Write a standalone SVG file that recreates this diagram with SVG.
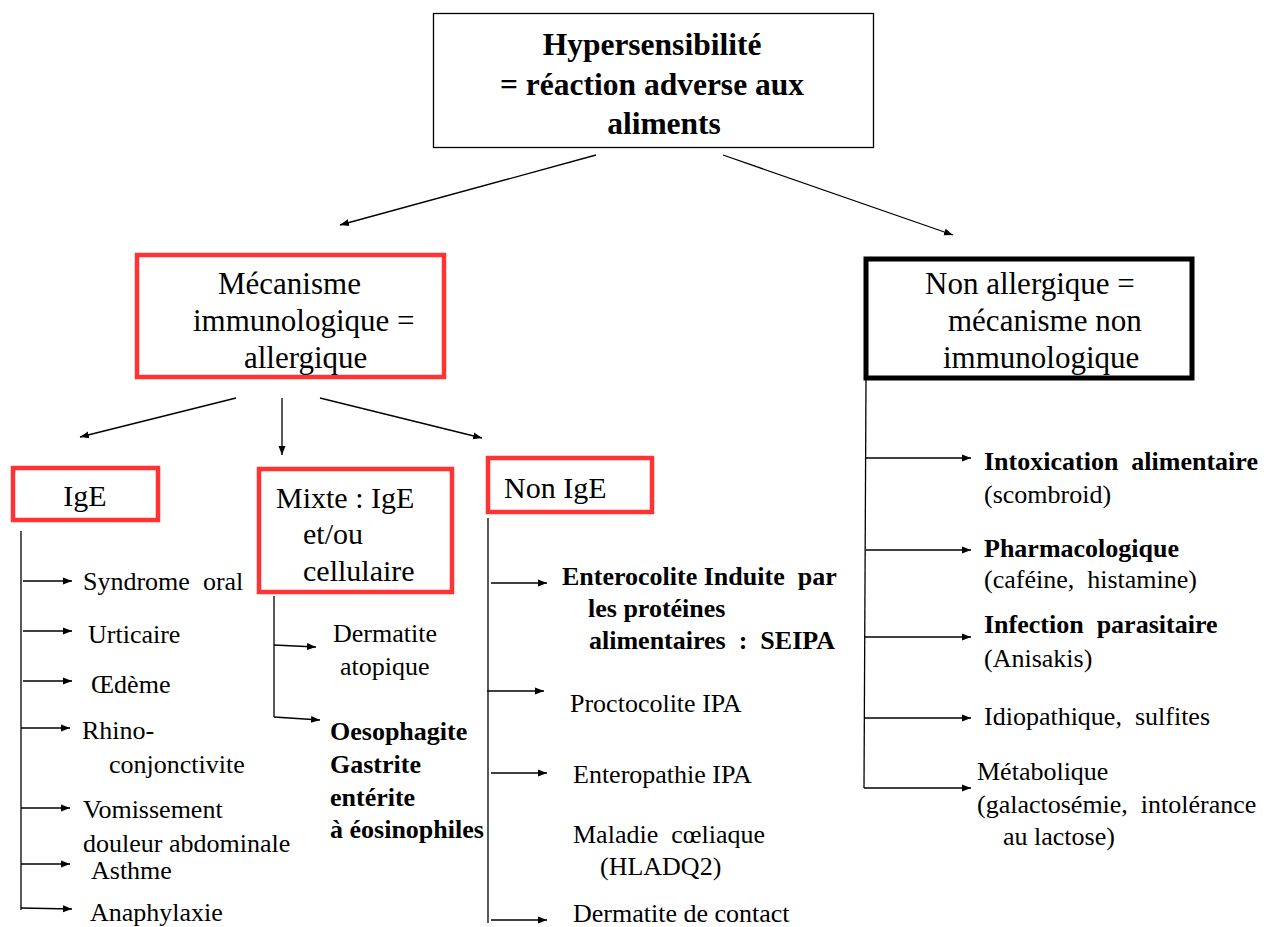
<svg xmlns="http://www.w3.org/2000/svg" width="1274" height="927" viewBox="0 0 1274 927">
<style>
text{font-family:"Liberation Serif","Times New Roman",serif;fill:#000}
.t{font-size:26px}
.b{font-size:26px;font-weight:bold}
.h{font-size:31.5px;font-weight:bold}
.n{font-size:31px}
.s{font-size:30px}
.red{fill:#fff;stroke:#ff3333;stroke-width:4.5}
.ln{fill:none;stroke:#000;stroke-width:1.3}
</style>
<defs>
<marker id="ah" markerUnits="userSpaceOnUse" markerWidth="10" markerHeight="8" refX="9" refY="4" orient="auto">
<path d="M0,0.5 L9,4 L0,7.5 z" fill="#000"/>
</marker>
</defs>
<rect width="1274" height="927" fill="#fff"/>

<g id="connectors" class="ln">
<line x1="596" y1="155" x2="340" y2="225" marker-end="url(#ah)"/>
<line x1="723" y1="155" x2="953" y2="235" marker-end="url(#ah)"/>
<line x1="236" y1="398" x2="80" y2="437" marker-end="url(#ah)"/>
<line x1="282" y1="398" x2="282" y2="455" marker-end="url(#ah)"/>
<line x1="320" y1="398" x2="482" y2="438" marker-end="url(#ah)"/>
<line x1="21" y1="531" x2="21" y2="910"/>
<line x1="23" y1="581" x2="72" y2="581" marker-end="url(#ah)"/>
<line x1="23" y1="631" x2="72" y2="631" marker-end="url(#ah)"/>
<line x1="23" y1="681" x2="72" y2="681" marker-end="url(#ah)"/>
<line x1="21" y1="728" x2="70" y2="728" marker-end="url(#ah)"/>
<line x1="21" y1="808" x2="70" y2="808" marker-end="url(#ah)"/>
<line x1="21" y1="864" x2="70" y2="864" marker-end="url(#ah)"/>
<line x1="21" y1="908" x2="72" y2="909" marker-end="url(#ah)"/>
<line x1="274" y1="596" x2="274" y2="717"/>
<line x1="274" y1="645" x2="316" y2="647" marker-end="url(#ah)"/>
<line x1="274" y1="717" x2="320" y2="720" marker-end="url(#ah)"/>
<line x1="488" y1="518" x2="488" y2="923"/>
<line x1="491" y1="583" x2="547" y2="583" marker-end="url(#ah)"/>
<line x1="487" y1="691" x2="544" y2="691" marker-end="url(#ah)"/>
<line x1="491" y1="773" x2="547" y2="773" marker-end="url(#ah)"/>
<line x1="491" y1="920" x2="547" y2="920" marker-end="url(#ah)"/>
<line x1="866" y1="380" x2="864" y2="788"/>
<line x1="866" y1="458" x2="971" y2="458" marker-end="url(#ah)"/>
<line x1="866" y1="550" x2="971" y2="550" marker-end="url(#ah)"/>
<line x1="865" y1="637" x2="971" y2="637" marker-end="url(#ah)"/>
<line x1="865" y1="718" x2="971" y2="718" marker-end="url(#ah)"/>
<line x1="864" y1="788" x2="971" y2="788" marker-end="url(#ah)"/>
</g>

<g id="node-hyper">
<rect x="433.5" y="13.5" width="440" height="134" fill="#fff" stroke="#000" stroke-width="1.3"/>
<text class="h" x="652" y="55" text-anchor="middle">Hypersensibilité</text>
<text class="h" x="652" y="95" text-anchor="middle">= réaction adverse aux</text>
<text class="h" x="664" y="134" text-anchor="middle">aliments</text>
</g>

<g id="node-meca">
<rect class="red" x="137" y="255" width="307" height="122"/>
<text class="n" x="218" y="294">Mécanisme</text>
<text class="n" x="193" y="331">immunologique =</text>
<text class="n" x="244" y="368">allergique</text>
</g>

<g id="node-nonallerg">
<rect x="866" y="259" width="326" height="119" fill="#fff" stroke="#000" stroke-width="5"/>
<text class="n" x="925" y="294">Non allergique =</text>
<text class="n" x="948" y="331">mécanisme non</text>
<text class="n" x="943" y="368">immunologique</text>
</g>

<g id="node-ige">
<rect class="red" x="13" y="468" width="145" height="52"/>
<text class="s" x="85" y="506" text-anchor="middle">IgE</text>
</g>
<g id="node-mixte">
<rect class="red" x="259" y="469" width="193" height="123"/>
<text class="s" x="276" y="508">Mixte : IgE</text>
<text class="s" x="303" y="544">et/ou</text>
<text class="s" x="303" y="581">cellulaire</text>
</g>
<g id="node-nonige">
<rect class="red" x="488" y="458" width="164" height="54"/>
<text class="s" x="504" y="498">Non IgE</text>
</g>

<g id="items-ige">
<text class="t" x="83" y="590" xml:space="preserve">Syndrome  oral</text>
<text class="t" x="88" y="643">Urticaire</text>
<text class="t" x="91" y="693">Œdème</text>
<text class="t" x="82" y="739">Rhino-</text>
<text class="t" x="109" y="773">conjonctivite</text>
<text class="t" x="83" y="818">Vomissement</text>
<text class="t" x="83" y="852">douleur abdominale</text>
<text class="t" x="91" y="879">Asthme</text>
<text class="t" x="90" y="921">Anaphylaxie</text>
</g>

<g id="items-mixte">
<text class="t" x="333" y="642">Dermatite</text>
<text class="t" x="340" y="675">atopique</text>
<text class="b" x="330" y="740">Oesophagite</text>
<text class="b" x="330" y="773">Gastrite</text>
<text class="b" x="330" y="806">entérite</text>
<text class="b" x="330" y="838">à éosinophiles</text>
</g>

<g id="items-nonige">
<text class="b" x="562" y="585" xml:space="preserve">Enterocolite Induite  par</text>
<text class="b" x="588" y="617">les protéines</text>
<text class="b" x="589" y="649" xml:space="preserve">alimentaires  :  SEIPA</text>
<text class="t" x="570" y="712">Proctocolite IPA</text>
<text class="t" x="573" y="783">Enteropathie IPA</text>
<text class="t" x="573" y="843" xml:space="preserve">Maladie  cœliaque</text>
<text class="t" x="600" y="875">(HLADQ2)</text>
<text class="t" x="573" y="922">Dermatite de contact</text>
</g>

<g id="items-nonallerg">
<text class="b" x="984" y="470" xml:space="preserve">Intoxication  alimentaire</text>
<text class="t" x="984" y="503">(scombroid)</text>
<text class="b" x="984" y="557">Pharmacologique</text>
<text class="t" x="984" y="588" xml:space="preserve">(caféine,  histamine)</text>
<text class="b" x="984" y="633" xml:space="preserve">Infection  parasitaire</text>
<text class="t" x="984" y="667">(Anisakis)</text>
<text class="t" x="984" y="725" xml:space="preserve">Idiopathique,  sulfites</text>
<text class="t" x="977" y="780">Métabolique</text>
<text class="t" x="977" y="813" xml:space="preserve">(galactosémie,  intolérance</text>
<text class="t" x="1003" y="845">au lactose)</text>
</g>
</svg>
